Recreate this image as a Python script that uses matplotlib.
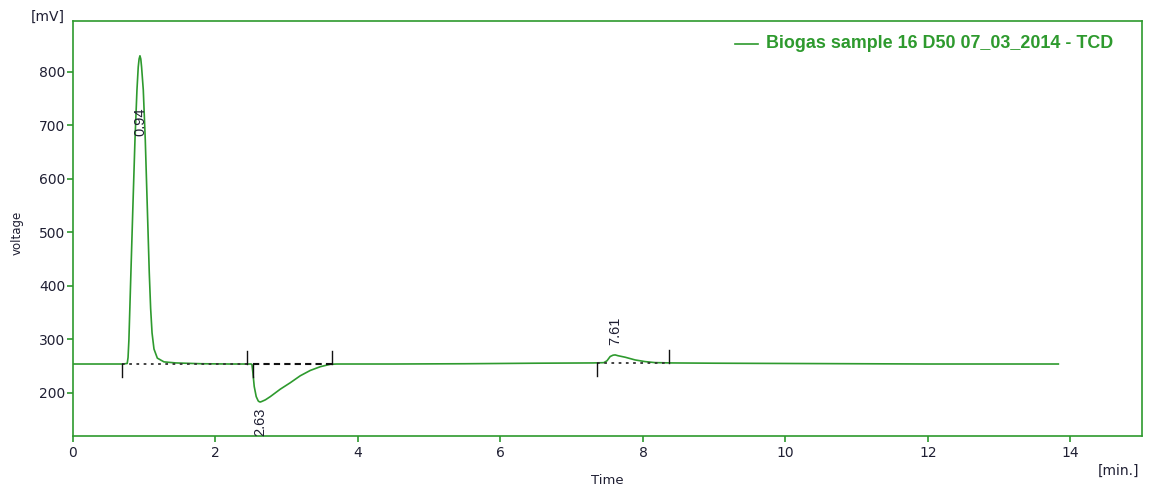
import matplotlib
matplotlib.use("Agg")
import matplotlib.pyplot as plt

# Detector trace (time in minutes, signal in mV)
time_min = [
    0.00, 0.50, 0.70, 0.761, 0.773, 0.785, 0.813, 0.841, 0.870, 0.898, 0.916,
    0.928, 0.94, 0.952, 0.963, 0.987, 1.015, 1.043, 1.071, 1.090, 1.110, 1.137, 1.184,
    1.277, 1.442, 1.80, 2.20, 2.45, 2.50,
    2.512, 2.526, 2.544, 2.572, 2.600, 2.615, 2.629, 2.65, 2.70, 2.769, 2.910,
    3.05, 3.19, 3.331, 3.472, 3.613, 3.70, 4.50, 5.50, 6.50, 7.30, 7.45,
    7.495, 7.54, 7.58, 7.61, 7.65, 7.75, 7.89, 8.03, 8.17, 8.40, 9.00,
    10.0, 11.0, 12.0, 13.0, 13.83,
]
signal_mv = [
    254, 254, 254, 255, 266, 299, 424, 548, 672, 766, 809,
    824, 830, 824, 809, 766, 672, 548, 424, 358, 312, 282, 265,
    258, 256, 254.5, 254, 254, 254,
    253, 237, 212, 193, 185, 183.5, 183, 184, 187, 193, 207,
    219, 232, 242, 249, 253.5, 254, 254, 254.5, 255.5, 256, 256.5,
    260, 268, 270.5, 271, 269.5, 266.7, 261.6, 258.5, 256.6, 256, 255.5,
    255, 254.5, 254, 254, 254,
]

# Integration results
peak_rt = [0.94, 2.63, 7.61]
peak_label_y = [680, 172, 290]          # anchor of each rotated label (mV)
peak_label_va = ["bottom", "top", "bottom"]
peak_start = [0.685, 2.52, 7.36]
peak_end = [2.44, 3.636, 8.37]
base_start_mv = [254, 254, 256]
base_end_mv = [254, 254, 256]

legend_label = "Biogas sample 16 D50 07_03_2014 - TCD"

GREEN = "#2e9a2e"
TEXT = "#1f1f33"

fig = plt.figure(figsize=(11.51, 4.93), dpi=100)
ax = fig.add_axes([0.0634, 0.1162, 0.9285, 0.8412])

ax.plot(time_min, signal_mv, color=GREEN, lw=1.2, zorder=3)

# baselines of the integrated peaks
styles = [dict(ls=(0, (1.5, 2.5)), lw=1.3, color="#333333"),
          dict(ls=(0, (3, 2)), lw=1.5, color="#111111"),
          dict(ls=(0, (1.5, 2.5)), lw=1.3, color="#333333")]
for s, e, bs, be, st in zip(peak_start, peak_end, base_start_mv, base_end_mv, styles):
    ax.plot([s, e], [bs, be], zorder=4, **st)
    ax.plot([s, s], [bs, bs - 25], color="#111111", lw=1.0, zorder=4)
    ax.plot([e, e], [be, be + 25], color="#111111", lw=1.0, zorder=4)

for rt, ly, va in zip(peak_rt, peak_label_y, peak_label_va):
    ax.text(rt, ly, f"{rt:.2f}", rotation=90, ha="center", va=va,
            fontsize=10.5, family="Liberation Sans", color=TEXT, zorder=5)

ax.set_xlim(0, 15)
ax.set_ylim(120, 895)
ax.set_xticks(range(0, 15, 2))
ax.set_yticks(range(200, 801, 100))

for sp in ax.spines.values():
    sp.set_color(GREEN)
    sp.set_linewidth(1.2)
ax.tick_params(axis="both", direction="out", length=4.5, width=1.2,
               color=GREEN, labelcolor=TEXT, labelsize=10)
ax.tick_params(axis="y", pad=1)
ax.tick_params(axis="x", pad=3)

# legend entry
fig.add_artist(plt.Line2D([735 / 1151, 758 / 1151], [1 - 44 / 493] * 2,
                          color=GREEN, lw=1.2))
fig.text(766 / 1151, 1 - 44 / 493, legend_label, ha="left", va="center",
         fontsize=12.9, family="Liberation Sans", fontweight="bold", color=GREEN)

fig.text(65 / 1151, 1 - 17 / 493, "[mV]", ha="right", va="center",
         fontsize=10, color=TEXT)
fig.text(17 / 1151, 1 - 233 / 493, "voltage", ha="center", va="center",
         rotation=90, fontsize=8.5, color=TEXT)
fig.text(607 / 1151, 1 - 480 / 493, "Time", ha="center", va="center",
         fontsize=9.5, color=TEXT)
fig.text(1139 / 1151, 1 - 471 / 493, "[min.]", ha="right", va="center",
         fontsize=10, color=TEXT)

fig.savefig("out.png", dpi=100)
